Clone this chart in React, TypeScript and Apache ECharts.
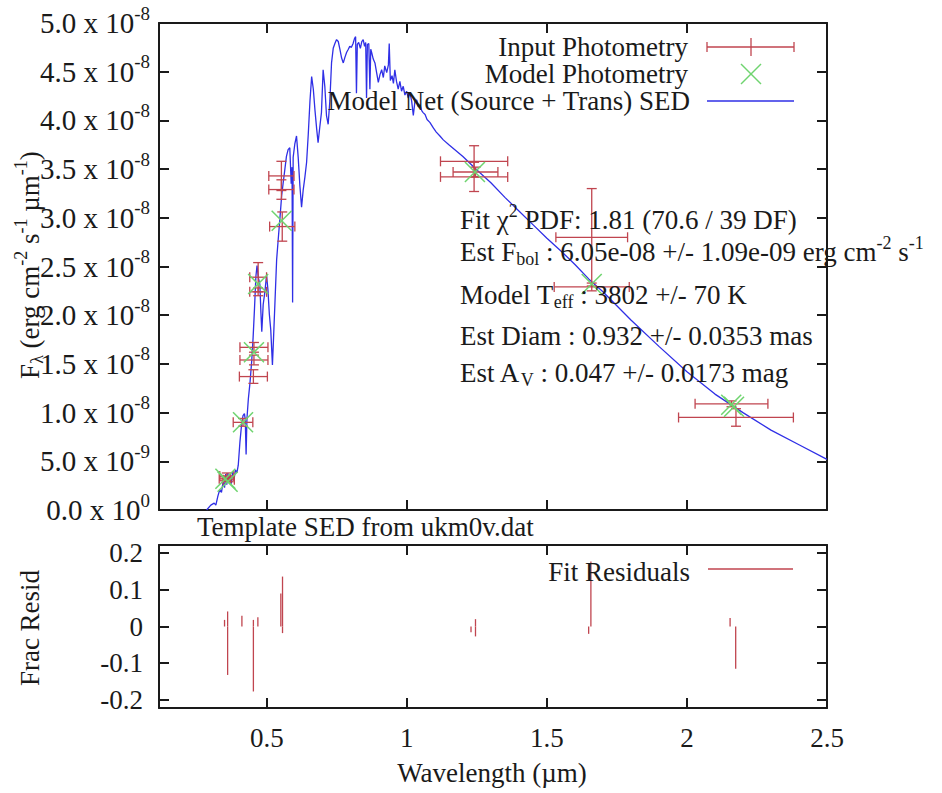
import React, { useEffect, useRef } from "react";
import * as echarts from "echarts";

// ---------- data ----------
const WAVE_TICKS = [0.5, 1, 1.5, 2, 2.5];
const FLUX_TICKS_STEP = 0.5; // in units of 1e-8
const RESID_TICKS = [-0.2, -0.1, 0, 0.1, 0.2];

// Model net SED: [wavelength um, F_lambda in 1e-8 erg cm^-2 s^-1 um^-1]
const SED: [number, number][] = [
  [0.285, 0.0], [0.3, 0.05], [0.312, 0.07], [0.318, 0.05], [0.325, 0.14], [0.332, 0.21],
  [0.338, 0.18], [0.344, 0.29], [0.349, 0.23], [0.353, 0.37], [0.357, 0.26], [0.361, 0.38],
  [0.365, 0.28], [0.369, 0.36], [0.373, 0.27], [0.378, 0.39], [0.383, 0.32], [0.388, 0.41],
  [0.393, 0.38], [0.398, 0.46], [0.404, 0.7], [0.41, 0.88], [0.415, 0.97], [0.42, 0.99],
  [0.423, 0.93], [0.426, 0.57], [0.429, 0.94], [0.434, 1.14], [0.44, 1.31], [0.446, 1.53],
  [0.451, 1.77], [0.456, 2.07], [0.461, 2.4], [0.465, 2.51], [0.47, 2.38], [0.475, 2.32],
  [0.479, 2.02], [0.482, 1.83], [0.487, 2.11], [0.493, 2.24], [0.499, 2.41], [0.504, 2.26],
  [0.509, 2.01], [0.514, 1.85], [0.52, 1.49], [0.524, 1.77], [0.529, 2.13], [0.535, 2.57],
  [0.541, 2.79], [0.548, 3.04], [0.553, 3.23], [0.558, 3.35], [0.564, 3.49], [0.57, 3.63],
  [0.576, 3.7], [0.582, 3.72], [0.587, 3.35], [0.59, 3.52], [0.592, 2.13], [0.594, 3.62],
  [0.6, 3.76], [0.606, 3.84], [0.612, 3.62], [0.618, 3.33], [0.624, 3.11], [0.63, 3.29],
  [0.636, 3.42], [0.642, 3.57], [0.648, 3.86], [0.654, 4.2], [0.66, 4.45], [0.666, 4.32],
  [0.672, 4.1], [0.678, 3.91], [0.683, 3.77], [0.689, 3.93], [0.695, 4.08], [0.701, 4.52],
  [0.707, 4.35], [0.713, 4.05], [0.719, 3.96], [0.725, 4.2], [0.731, 4.59], [0.737, 4.74],
  [0.743, 4.79], [0.749, 4.83], [0.755, 4.81], [0.761, 4.73], [0.767, 4.64], [0.773, 4.59],
  [0.779, 4.65], [0.785, 4.7], [0.791, 4.73], [0.796, 4.76], [0.802, 4.75], [0.808, 4.79],
  [0.813, 4.84], [0.817, 4.86], [0.82, 4.28], [0.823, 4.78], [0.828, 4.8], [0.834, 4.74],
  [0.839, 4.81], [0.844, 4.83], [0.849, 4.76], [0.853, 4.8], [0.856, 4.23], [0.859, 4.78],
  [0.864, 4.79], [0.868, 4.32], [0.871, 4.73], [0.874, 4.7], [0.88, 4.63], [0.886, 4.59],
  [0.892, 4.49], [0.898, 4.39], [0.904, 4.47], [0.91, 4.52], [0.916, 4.44], [0.921, 4.56],
  [0.928, 4.49], [0.934, 4.57], [0.937, 4.79], [0.941, 4.41], [0.947, 4.46], [0.952, 4.38],
  [0.957, 4.52], [0.963, 4.4], [0.969, 4.32], [0.975, 4.4], [0.981, 4.3], [0.987, 4.35],
  [0.993, 4.26], [0.999, 4.3], [1.005, 4.23], [1.011, 4.28], [1.017, 4.2], [1.023, 4.05],
  [1.029, 4.2], [1.035, 4.21], [1.041, 4.14], [1.047, 4.16], [1.053, 4.1], [1.058, 4.08],
  [1.065, 4.06], [1.072, 4.01], [1.082, 3.98], [1.095, 3.92], [1.105, 3.88], [1.118, 3.84],
  [1.13, 3.8], [1.15, 3.75], [1.2, 3.63], [1.25, 3.49], [1.3, 3.36], [1.35, 3.21],
  [1.4, 3.07], [1.45, 2.93], [1.5, 2.79], [1.55, 2.66], [1.6, 2.52], [1.65, 2.37],
  [1.7, 2.24], [1.8, 1.95], [1.9, 1.68], [2.0, 1.42], [2.1, 1.19], [2.2, 1.0],
  [2.3, 0.82], [2.4, 0.67], [2.5, 0.52],
];

// Input photometry: [wavelength, flux(1e-8), x half-width, y error]
const INPUT_PHOT: [number, number, number, number][] = [
  [0.35, 0.32, 0.02, 0.02], [0.357, 0.35, 0.025, 0.03], [0.364, 0.31, 0.02, 0.02],
  [0.415, 0.9, 0.035, 0.04],
  [0.454, 1.67, 0.05, 0.05], [0.454, 1.54, 0.05, 0.05], [0.452, 1.37, 0.05, 0.07],
  [0.469, 2.39, 0.03, 0.15], [0.469, 2.24, 0.03, 0.04],
  [0.552, 3.43, 0.045, 0.15], [0.552, 3.29, 0.045, 0.1], [0.555, 2.91, 0.045, 0.15],
  [1.24, 3.58, 0.12, 0.16], [1.245, 3.47, 0.08, 0.05], [1.24, 3.42, 0.12, 0.15],
  [1.66, 2.8, 0.128, 0.5], [1.66, 2.29, 0.134, 0.04],
  [2.159, 1.09, 0.13, 0.03], [2.175, 0.95, 0.205, 0.09],
];

// Model photometry: [wavelength, flux(1e-8)]
const MODEL_PHOT: [number, number][] = [
  [0.352, 0.32], [0.36, 0.29], [0.415, 0.9], [0.454, 1.62], [0.469, 2.32],
  [0.553, 2.97], [1.243, 3.47], [1.66, 2.32], [2.158, 1.08], [2.168, 1.06],
];

// Fractional residuals: [wavelength, residual]
const RESID: [number, number][] = [
  [0.349, 0.018], [0.36, 0.041], [0.36, -0.132], [0.411, 0.029], [0.452, 0.018],
  [0.452, -0.177], [0.468, 0.025], [0.55, 0.09], [0.556, 0.136], [0.556, -0.018],
  [1.229, -0.016], [1.245, 0.02], [1.245, -0.027], [1.649, -0.02], [1.657, 0.177],
  [2.154, 0.023], [2.174, -0.115],
];

// ---------- styles ----------
const FONT = "'Liberation Serif', 'Times New Roman', serif";
const INK = "#1a1a1a";
const RED = "#c0454f";
const GREEN = "#6fd46f";
const BLUE = "#2f2fe6";
const FS = 27;
const FS_Y = 29;

const RICH = {
  sup: { fontSize: 18, fontFamily: FONT, color: INK, verticalAlign: "middle", padding: [0, 0, 18, 0] },
  sub: { fontSize: 18, fontFamily: FONT, color: INK, verticalAlign: "middle", padding: [14, 0, 0, 0] },
};

const RICH_Y = {
  sup: { fontSize: 19, fontFamily: FONT, color: INK, verticalAlign: "middle", padding: [0, 0, 20, 0] },
};

const X_MIN = 0.115;
const X_MAX = 2.5;

function xAxisOf(gridIndex: number, position: string, showLabels: boolean) {
  return {
    type: "value",
    gridIndex,
    position,
    min: X_MIN,
    max: X_MAX,
    axisLine: { show: true, onZero: false, lineStyle: { color: INK, width: 2 } },
    axisTick: { show: true, inside: true, length: 10, customValues: WAVE_TICKS, lineStyle: { color: INK, width: 2 } },
    axisLabel: {
      show: showLabels,
      customValues: WAVE_TICKS,
      margin: 16,
      fontSize: FS,
      fontFamily: FONT,
      color: INK,
      formatter: (v: number) => String(v),
    },
    splitLine: { show: false },
  };
}

function fluxLabel(v: number) {
  if (Math.abs(v) < 1e-9) return "0.0 x 10{sup|0}";
  if (v < 1) return `${(v * 10).toFixed(1)} x 10{sup|-9}`;
  return `${v.toFixed(1)} x 10{sup|-8}`;
}

function yFluxAxis(position: string, showLabels: boolean) {
  return {
    type: "value",
    gridIndex: 0,
    position,
    min: 0,
    max: 5,
    interval: FLUX_TICKS_STEP,
    axisLine: { show: true, onZero: false, lineStyle: { color: INK, width: 2 } },
    axisTick: { show: true, inside: true, length: 10, lineStyle: { color: INK, width: 2 } },
    axisLabel: {
      show: showLabels,
      margin: 9,
      fontSize: FS_Y,
      fontFamily: FONT,
      color: INK,
      formatter: fluxLabel,
      rich: RICH_Y,
    },
    splitLine: { show: false },
  };
}

function yResidAxis(position: string, showLabels: boolean) {
  return {
    type: "value",
    gridIndex: 1,
    position,
    min: -0.222,
    max: 0.222,
    axisLine: { show: true, onZero: false, lineStyle: { color: INK, width: 2 } },
    axisTick: { show: true, inside: true, length: 10, customValues: RESID_TICKS, lineStyle: { color: INK, width: 2 } },
    axisLabel: {
      show: showLabels,
      customValues: RESID_TICKS,
      margin: 16,
      fontSize: FS,
      fontFamily: FONT,
      color: INK,
      formatter: (v: number) => (Math.abs(v) < 1e-9 ? "0" : String(v)),
    },
    splitLine: { show: false },
  };
}

function txt(x: number, y: number, text: string, align = "left", extra: any = {}) {
  return {
    type: "text",
    x,
    y,
    z: 50,
    silent: true,
    ...extra,
    style: {
      text,
      rich: RICH,
      fontSize: FS,
      fontFamily: FONT,
      fill: INK,
      align,
      verticalAlign: "middle",
    },
  };
}

function seg(x1: number, y1: number, x2: number, y2: number, color: string, w = 1.3) {
  return { type: "line", z: 50, silent: true, shape: { x1, y1, x2, y2 }, style: { stroke: color, lineWidth: w } };
}

export default function App() {
  const ref = useRef<HTMLDivElement>(null);

  useEffect(() => {
    document.body.style.margin = "0";
    if (!ref.current) return;
    const chart = echarts.init(ref.current, null, { renderer: "svg" });

    const errorBars = (params: any, api: any) => {
      const x = api.value(0), y = api.value(1), dx = api.value(2), dy = api.value(3);
      const c = api.coord([x, y]);
      const l = api.coord([x - dx, y]);
      const r = api.coord([x + dx, y]);
      const t = api.coord([x, y + dy]);
      const b = api.coord([x, y - dy]);
      const cap = 5;
      const style = { stroke: RED, lineWidth: 1.3 };
      const L = (x1: number, y1: number, x2: number, y2: number) => ({ type: "line", shape: { x1, y1, x2, y2 }, style });
      return {
        type: "group",
        children: [
          L(l[0], c[1], r[0], c[1]),
          L(l[0], c[1] - cap, l[0], c[1] + cap),
          L(r[0], c[1] - cap, r[0], c[1] + cap),
          L(c[0], t[1], c[0], b[1]),
          L(c[0] - cap, t[1], c[0] + cap, t[1]),
          L(c[0] - cap, b[1], c[0] + cap, b[1]),
        ],
      };
    };

    const crosses = (params: any, api: any) => {
      const c = api.coord([api.value(0), api.value(1)]);
      const s = 10;
      const style = { stroke: GREEN, lineWidth: 1.5 };
      return {
        type: "group",
        children: [
          { type: "line", shape: { x1: c[0] - s, y1: c[1] - s, x2: c[0] + s, y2: c[1] + s }, style },
          { type: "line", shape: { x1: c[0] - s, y1: c[1] + s, x2: c[0] + s, y2: c[1] - s }, style },
        ],
      };
    };

    const impulses = (params: any, api: any) => {
      const a = api.coord([api.value(0), 0]);
      const b = api.coord([api.value(0), api.value(1)]);
      return { type: "line", shape: { x1: a[0], y1: a[1], x2: b[0], y2: b[1] }, style: { stroke: RED, lineWidth: 1.3 } };
    };

    const option: any = {
      animation: false,
      backgroundColor: "#ffffff",
      grid: [
        { left: 159, top: 23, width: 668, height: 487 },
        { left: 159, top: 545, width: 668, height: 163 },
      ],
      xAxis: [
        xAxisOf(0, "bottom", false),
        xAxisOf(0, "top", false),
        xAxisOf(1, "bottom", true),
        xAxisOf(1, "top", false),
      ],
      yAxis: [
        yFluxAxis("left", true),
        yFluxAxis("right", false),
        yResidAxis("left", true),
        yResidAxis("right", false),
      ],
      series: [
        {
          type: "line",
          xAxisIndex: 0,
          yAxisIndex: 0,
          data: SED,
          showSymbol: false,
          symbol: "none",
          lineStyle: { color: BLUE, width: 1.3 },
          z: 3,
          silent: true,
        },
        {
          type: "custom",
          xAxisIndex: 0,
          yAxisIndex: 0,
          data: INPUT_PHOT,
          renderItem: errorBars,
          z: 4,
          silent: true,
        },
        {
          type: "custom",
          xAxisIndex: 0,
          yAxisIndex: 0,
          data: MODEL_PHOT,
          renderItem: crosses,
          z: 5,
          silent: true,
        },
        {
          type: "custom",
          xAxisIndex: 2,
          yAxisIndex: 2,
          data: RESID,
          renderItem: impulses,
          z: 4,
          silent: true,
        },
      ],
      graphic: [
        // legend, top panel
        txt(688, 47, "Input Photometry", "right"),
        seg(707, 47, 794, 47, RED),
        seg(707, 42, 707, 52, RED),
        seg(794, 42, 794, 52, RED),
        seg(751, 38, 751, 56, RED),
        txt(688, 74, "Model Photometry", "right"),
        seg(741, 64, 761, 84, GREEN, 1.5),
        seg(741, 84, 761, 64, GREEN, 1.5),
        txt(690, 101, "Model Net (Source + Trans) SED", "right"),
        seg(707, 101, 794, 101, BLUE),
        // fit annotations
        txt(460, 220, "Fit \u03c7{sup|2} PDF: 1.81 (70.6 / 39 DF)"),
        txt(460, 252, "Est F{sub|bol} : 6.05e-08 +/- 1.09e-09 erg cm{sup|-2} s{sup|-1}"),
        txt(460, 295, "Model T{sub|eff} : 3802 +/- 70 K"),
        txt(460, 336, "Est Diam : 0.932 +/- 0.0353 mas"),
        txt(460, 373, "Est A{sub|V} : 0.047 +/- 0.0173 mag"),
        // template label
        txt(197, 527, "Template SED from ukm0v.dat"),
        // residual legend
        txt(690, 572, "Fit Residuals", "right"),
        seg(708, 569, 793, 569, RED),
        // axis titles
        txt(30, 265, "F{sub|\u03bb} (erg cm{sup|-2} s{sup|-1} \u00b5m{sup|-1})", "center", { rotation: Math.PI / 2 }),
        txt(30, 628, "Frac Resid", "center", { rotation: Math.PI / 2 }),
        txt(492, 773, "Wavelength (\u00b5m)", "center"),
      ],
    };

    chart.setOption(option);
    return () => chart.dispose();
  }, []);

  return <div ref={ref} style={{ width: 942, height: 793 }} />;
}
